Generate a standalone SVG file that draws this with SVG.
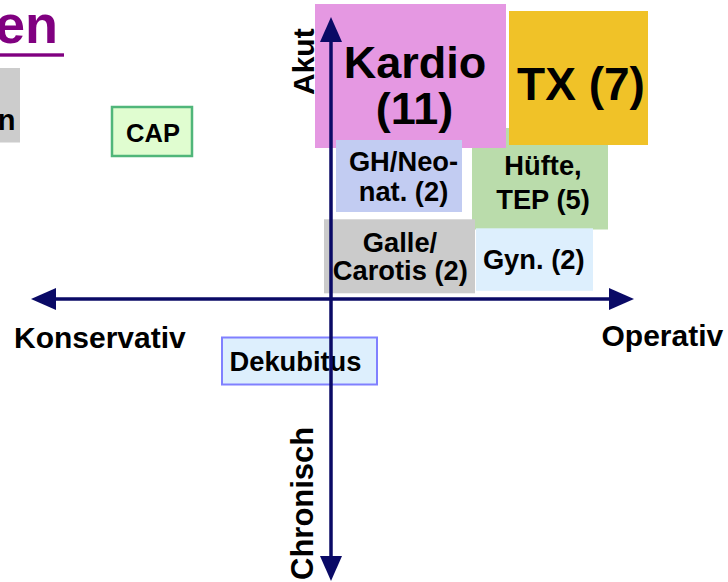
<svg xmlns="http://www.w3.org/2000/svg" width="728" height="582" viewBox="0 0 728 582">
  <style>
    text { font-family: "Liberation Sans", Arial, Helvetica, sans-serif; font-weight: bold; fill: #000; }
    .big { font-size: 45px; text-anchor: middle; }
    .mid { font-size: 27.3px; text-anchor: middle; }
    .axis-label { font-size: 30px; }
    .axis { stroke: #0a0a66; stroke-width: 3.5; fill: none; }
    .title { font-size: 54px; fill: #800080; }
  </style>
  <defs>
    <marker id="arrow" markerUnits="userSpaceOnUse" markerWidth="26" markerHeight="22" refX="1" refY="11" orient="auto-start-reverse" viewBox="0 0 26 22">
      <path d="M0,0 L25,11 L0,22 z" fill="#0a0a66"/>
    </marker>
  </defs>

  <!-- heading fragment -->
  <g id="title">
    <text class="title" x="58" y="43" text-anchor="end">en</text>
    <rect x="0" y="53.3" width="64" height="3.4" fill="#800080"/>
  </g>

  <!-- partially visible gray box on the left -->
  <g id="node-left">
    <rect x="-1" y="68" width="21" height="74.5" fill="#cccccc"/>
    <text x="15.5" y="130" font-size="29" text-anchor="end">n</text>
  </g>

  <g id="node-cap">
    <rect x="112" y="107" width="80" height="49" fill="#e0fdd0" stroke="#50b67a" stroke-width="2.5"/>
    <text x="153" y="141.5" font-size="25.5" text-anchor="middle">CAP</text>
  </g>

  <g id="node-huefte">
    <rect x="472" y="128" width="136" height="101.5" fill="#badcab"/>
    <text class="mid" x="543" y="175">Hüfte,</text>
    <text class="mid" x="543" y="209">TEP (5)</text>
  </g>

  <g id="node-tx">
    <rect x="509" y="11" width="139" height="134" fill="#f0c228"/>
    <text x="581" y="99.5" font-size="46" text-anchor="middle">TX (7)</text>
  </g>

  <g id="node-kardio">
    <rect x="315" y="4" width="191" height="144" fill="#e598e2"/>
    <text class="big" x="415" y="78">Kardio</text>
    <text class="big" x="414.5" y="124">(11)</text>
  </g>

  <g id="node-gh">
    <rect x="336" y="140" width="126" height="72" fill="#c2ccf2"/>
    <text class="mid" x="403.5" y="171">GH/Neo-</text>
    <text class="mid" x="403.5" y="200.7">nat. (2)</text>
  </g>

  <g id="node-galle">
    <rect x="324" y="219.3" width="151" height="74" fill="#cbcbcb"/>
    <text class="mid" x="400" y="251.7">Galle/</text>
    <text class="mid" x="400.3" y="280">Carotis (2)</text>
  </g>

  <g id="node-gyn">
    <rect x="476" y="228.3" width="117" height="62.5" fill="#ddeffd"/>
    <text class="mid" x="533.7" y="269.3">Gyn. (2)</text>
  </g>

  <g id="node-dekubitus">
    <rect x="222" y="337.5" width="155" height="47" fill="#ddeffd" stroke="#8080ff" stroke-width="2"/>
    <text class="mid" x="295.5" y="370.7">Dekubitus</text>
  </g>

  <!-- axes with arrowheads -->
  <g id="connectors">
    <line class="axis" x1="55" y1="299" x2="610" y2="299" marker-start="url(#arrow)" marker-end="url(#arrow)"/>
    <line class="axis" x1="331" y1="41" x2="331" y2="557" marker-start="url(#arrow)" marker-end="url(#arrow)"/>
  </g>

  <!-- axis labels -->
  <g id="axis-labels">
    <text class="axis-label" x="14" y="348">Konservativ</text>
    <text class="axis-label" x="601.5" y="346">Operativ</text>
    <text class="axis-label" transform="translate(314 95) rotate(-90)">Akut</text>
    <text class="axis-label" transform="translate(312.5 580) rotate(-90)" style="font-size:31px">Chronisch</text>
  </g>
</svg>
